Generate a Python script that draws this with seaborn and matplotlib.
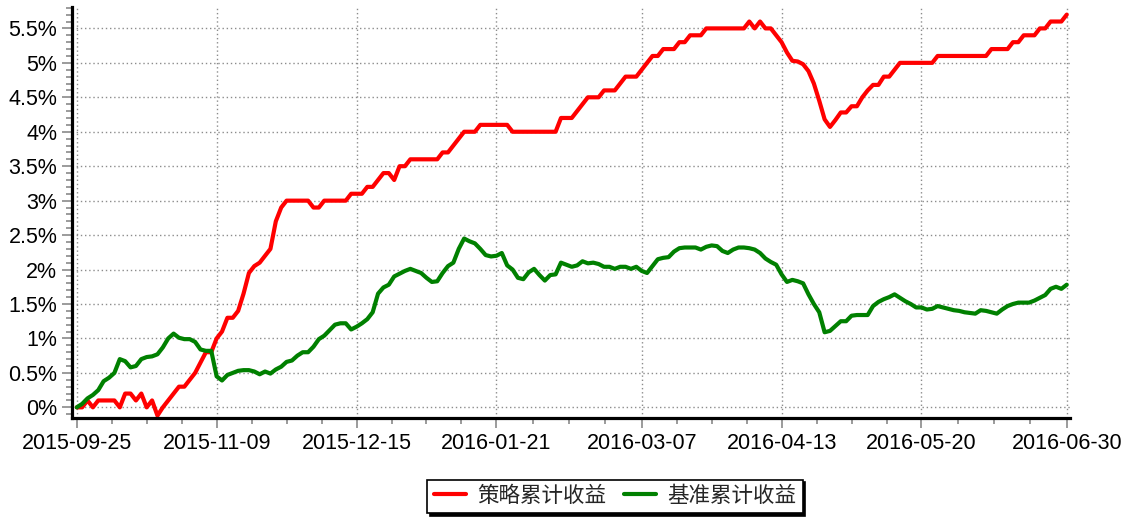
import numpy as np
import pandas as pd
import matplotlib
matplotlib.use("Agg")
import matplotlib.pyplot as plt
import seaborn as sns
from matplotlib.ticker import MultipleLocator, FixedLocator, FuncFormatter

# x axis is the trading-day index; labels sit on these days
tick_idx = [0, 26, 52, 78, 105, 131, 157, 184]
tick_dates = ["2015-09-25", "2015-11-09", "2015-12-15", "2016-01-21",
              "2016-03-07", "2016-04-13", "2016-05-20", "2016-06-30"]

series_names = ["策略累计收益", "基准累计收益"]

# cumulative return, in percent, one value per trading day
strategy_ret = [
    0.0, 0.0, 0.1, 0.0, 0.1, 0.1, 0.1, 0.1, 0.0, 0.2,
    0.2, 0.1, 0.2, 0.0, 0.1, -0.12, 0.0, 0.1, 0.2, 0.3,
    0.3, 0.4, 0.5, 0.65, 0.8, 0.8, 1.0, 1.1, 1.3, 1.3,
    1.4, 1.65, 1.95, 2.05, 2.1, 2.2, 2.3, 2.7, 2.9, 3.0,
    3.0, 3.0, 3.0, 3.0, 2.9, 2.9, 3.0, 3.0, 3.0, 3.0,
    3.0, 3.1, 3.1, 3.1, 3.2, 3.2, 3.3, 3.4, 3.4, 3.3,
    3.5, 3.5, 3.6, 3.6, 3.6, 3.6, 3.6, 3.6, 3.7, 3.7,
    3.8, 3.9, 4.0, 4.0, 4.0, 4.1, 4.1, 4.1, 4.1, 4.1,
    4.1, 4.0, 4.0, 4.0, 4.0, 4.0, 4.0, 4.0, 4.0, 4.0,
    4.2, 4.2, 4.2, 4.3, 4.4, 4.5, 4.5, 4.5, 4.6, 4.6,
    4.6, 4.7, 4.8, 4.8, 4.8, 4.9, 5.0, 5.1, 5.1, 5.2,
    5.2, 5.2, 5.3, 5.3, 5.4, 5.4, 5.4, 5.5, 5.5, 5.5,
    5.5, 5.5, 5.5, 5.5, 5.5, 5.6, 5.5, 5.6, 5.5, 5.5,
    5.4, 5.3, 5.15, 5.03, 5.02, 4.98, 4.88, 4.7, 4.45, 4.18,
    4.07, 4.17, 4.28, 4.28, 4.37, 4.37, 4.5, 4.6, 4.68, 4.68,
    4.8, 4.8, 4.9, 5.0, 5.0, 5.0, 5.0, 5.0, 5.0, 5.0,
    5.1, 5.1, 5.1, 5.1, 5.1, 5.1, 5.1, 5.1, 5.1, 5.1,
    5.2, 5.2, 5.2, 5.2, 5.3, 5.3, 5.4, 5.4, 5.4, 5.5,
    5.5, 5.6, 5.6, 5.6, 5.7,
]

benchmark_ret = [
    0.0, 0.05, 0.13, 0.18, 0.25, 0.38, 0.43, 0.5, 0.7, 0.67,
    0.58, 0.6, 0.7, 0.73, 0.74, 0.77, 0.87, 1.0, 1.07, 1.01,
    0.99, 0.99, 0.95, 0.84, 0.82, 0.82, 0.45, 0.39, 0.47, 0.5,
    0.53, 0.54, 0.54, 0.52, 0.48, 0.52, 0.49, 0.55, 0.59, 0.66,
    0.68, 0.75, 0.8, 0.8, 0.88, 0.99, 1.04, 1.12, 1.2, 1.22,
    1.22, 1.13, 1.17, 1.22, 1.28, 1.38, 1.65, 1.74, 1.78, 1.9,
    1.94, 1.98, 2.01, 1.98, 1.95, 1.88, 1.82, 1.83, 1.95, 2.05,
    2.1, 2.3, 2.45, 2.41, 2.38, 2.3, 2.21, 2.19, 2.2, 2.24,
    2.06, 2.0, 1.88, 1.86, 1.96, 2.01, 1.92, 1.84, 1.92, 1.93,
    2.1, 2.07, 2.04, 2.06, 2.12, 2.09, 2.1, 2.08, 2.04, 2.04,
    2.01, 2.04, 2.04, 2.01, 2.04, 1.98, 1.95, 2.05, 2.15, 2.17,
    2.18, 2.26, 2.31, 2.32, 2.32, 2.32, 2.29, 2.33, 2.35, 2.34,
    2.27, 2.24, 2.29, 2.32, 2.32, 2.31, 2.29, 2.24, 2.16, 2.11,
    2.07, 1.93, 1.82, 1.85, 1.83, 1.8, 1.64, 1.5, 1.38, 1.09,
    1.11, 1.18, 1.25, 1.25, 1.33, 1.34, 1.34, 1.34, 1.47, 1.53,
    1.57, 1.6, 1.64, 1.59, 1.54, 1.5, 1.45, 1.45, 1.42, 1.43,
    1.47, 1.45, 1.43, 1.41, 1.4, 1.38, 1.37, 1.36, 1.41, 1.4,
    1.38, 1.36, 1.42, 1.47, 1.5, 1.52, 1.52, 1.52, 1.55, 1.59,
    1.63, 1.72, 1.75, 1.72, 1.78,
]

df = pd.DataFrame({"day": np.arange(len(strategy_ret)),
                   "strategy": strategy_ret,
                   "benchmark": benchmark_ret})

sns.set_style("white")
plt.rcParams["font.family"] = ["Liberation Sans", "Noto Sans CJK SC", "DejaVu Sans"]

fig = plt.figure(figsize=(11.27, 5.18), dpi=100)
ax = fig.add_axes([0.0638, 0.193, 0.8856, 0.7934])

line_kw = dict(linewidth=3, solid_joinstyle="round", solid_capstyle="round")
sns.lineplot(data=df, x="day", y="strategy", color="#ff0000", label=series_names[0], ax=ax, **line_kw)
sns.lineplot(data=df, x="day", y="benchmark", color="#008000", label=series_names[1], ax=ax, **line_kw)

ax.set_xlim(-0.9, 184.6)
ax.set_ylim(-0.155, 5.81)
ax.set_xlabel("")
ax.set_ylabel("")

# x ticks: labelled days plus 3 minor ticks in every gap
ax.xaxis.set_major_locator(FixedLocator(tick_idx))
ax.set_xticklabels(tick_dates)
minor_x = [a + (b - a) * k / 4 for a, b in zip(tick_idx[:-1], tick_idx[1:]) for k in (1, 2, 3)]
ax.xaxis.set_minor_locator(FixedLocator(minor_x))

ax.yaxis.set_major_locator(MultipleLocator(0.5))
ax.yaxis.set_minor_locator(MultipleLocator(0.1))
ax.yaxis.set_major_formatter(FuncFormatter(lambda v, _: f"{round(v, 2) + 0.0:g}%"))

ax.tick_params(axis="both", which="major", direction="out", color="#8a8a8a",
               length=7, width=1.2, labelsize=15.5, labelcolor="black", pad=3.5)
ax.tick_params(axis="both", which="minor", direction="out", color="#8a8a8a",
               length=4.5, width=1.2)
ax.tick_params(axis="y", which="both", left=True)
ax.tick_params(axis="x", which="both", bottom=True)

ax.grid(True, which="major", color="#8c8c8c", linestyle=(0, (1, 2)), linewidth=1.0)
ax.set_axisbelow(True)

for side in ("top", "right"):
    ax.spines[side].set_visible(False)
for side in ("left", "bottom"):
    ax.spines[side].set_color("black")
    ax.spines[side].set_linewidth(2.3)

leg = ax.legend(loc="center", bbox_to_anchor=(615 / 1127, 1 - 496.5 / 518),
                bbox_transform=fig.transFigure, ncol=2, fontsize=15.5,
                frameon=True, fancybox=False, framealpha=1, edgecolor="black",
                shadow={"color": "black", "alpha": 1, "ox": 2, "oy": -2},
                handlelength=1.5, handletextpad=0.5, columnspacing=0.85,
                borderpad=0.3, borderaxespad=0)
leg.get_frame().set_linewidth(1.2)

fig.savefig("out.png", dpi=100)
